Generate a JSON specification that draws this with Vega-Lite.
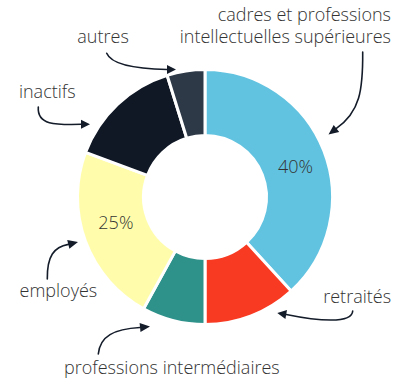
{
  "$schema": "https://vega.github.io/schema/vega-lite/v6.json",
  "autosize": "none",
  "width": 410,
  "height": 394,
  "padding": 0,
  "background": "white",
  "config": {"view": {"stroke": null}, "text": {"font": "Open Sans", "fontWeight": 300, "fontSize": 18, "color": "#333333"}},
  "data": {"values": [
    {"cat": "cadres", "name": "cadres et professions\nintellectuelles supérieures", "value": 38.2, "pct": "40%", "rank": 1},
    {"cat": "retraites", "name": "retraités", "value": 11.8, "pct": "", "rank": 2},
    {"cat": "prof", "name": "professions intermédiaires", "value": 8.0, "pct": "", "rank": 3},
    {"cat": "employes", "name": "employés", "value": 22.7, "pct": "25%", "rank": 4},
    {"cat": "inactifs", "name": "inactifs", "value": 14.5, "pct": "", "rank": 5},
    {"cat": "autres", "name": "autres", "value": 4.8, "pct": "", "rank": 6}
  ]},
  "layer": [
    {
      "encoding": {
        "theta": {"field": "value", "type": "quantitative", "stack": true},
        "order": {"field": "rank", "type": "quantitative"}
      },
      "layer": [
        {
          "mark": {"type": "arc", "innerRadius": 61.5, "outerRadius": 127.5, "stroke": "white", "strokeWidth": 3},
          "encoding": {
            "color": {"field": "cat", "type": "nominal", "legend": null,
              "scale": {"domain": ["cadres", "retraites", "prof", "employes", "inactifs", "autres"],
                        "range": ["#62C3E1", "#F93A22", "#2E918A", "#FFFDAB", "#101826", "#2D3947"]}}
          }
        },
        {
          "mark": {"type": "text", "radius": 94, "baseline": "alphabetic", "align": "center", "dx": 2.9, "dy": 10.3},
          "encoding": {"text": {"condition": {"test": "datum.cat === 'cadres'", "field": "pct"}, "value": ""}}
        },
        {
          "mark": {"type": "text", "radius": 94, "baseline": "alphabetic", "align": "center", "dx": -1, "dy": -0.9},
          "encoding": {"text": {"condition": {"test": "datum.cat === 'employes'", "field": "pct"}, "value": ""}}
        },
        {
          "mark": {"type": "text", "radius": 140, "align": "right", "baseline": "alphabetic", "lineBreak": "\n", "lineHeight": 22, "dx": 55.5, "dy": -125.2},
          "encoding": {"text": {"condition": {"test": "datum.cat === 'cadres'", "field": "name"}, "value": ""}}
        },
        {
          "mark": {"type": "text", "radius": 140, "align": "center", "baseline": "alphabetic", "dx": -80.9, "dy": -15.9},
          "encoding": {"text": {"condition": {"test": "datum.cat === 'autres'", "field": "name"}, "value": ""}}
        },
        {
          "mark": {"type": "text", "radius": 140, "align": "center", "baseline": "alphabetic", "dx": -61.6, "dy": 2.3},
          "encoding": {"text": {"condition": {"test": "datum.cat === 'inactifs'", "field": "name"}, "value": ""}}
        },
        {
          "mark": {"type": "text", "radius": 140, "align": "center", "baseline": "alphabetic", "dx": -15.4, "dy": 51.3},
          "encoding": {"text": {"condition": {"test": "datum.cat === 'employes'", "field": "name"}, "value": ""}}
        },
        {
          "mark": {"type": "text", "radius": 140, "align": "center", "baseline": "alphabetic", "dx": 1.7, "dy": 41.7},
          "encoding": {"text": {"condition": {"test": "datum.cat === 'prof'", "field": "name"}, "value": ""}}
        },
        {
          "mark": {"type": "text", "radius": 140, "align": "center", "baseline": "alphabetic", "dx": 101.4, "dy": -24.8},
          "encoding": {"text": {"condition": {"test": "datum.cat === 'retraites'", "field": "name"}, "value": ""}}
        }
      ]
    },
    {
      "data": {"values": [{"annotation": "flèches"}]},
      "mark": {"type": "point", "filled": false, "opacity": 1, "size": 40000, "color": "#141C2A", "strokeWidth": 1.6, "strokeCap": "round",
        "shape": "M-0.983,-1.437 C-0.93,-1.31 -0.65,-1.28 -0.38,-1.275 M1.577,-1.45 C1.58,-1.07 1.55,-0.85 1.314,-0.686 M-1.667,-0.9 C-1.68,-0.72 -1.5,-0.72 -1.24,-0.727 M-1.577,0.82 C-1.58,0.59 -1.51,0.5 -1.367,0.474 M-1.067,1.57 C-1.05,1.39 -0.91,1.32 -0.65,1.305 M1.477,1.14 C1.47,1.27 1.13,1.24 0.812,1.175"},
      "encoding": {}
    },
    {
      "data": {"values": [{"annotation": "pointes"}]},
      "mark": {"type": "point", "filled": true, "opacity": 1, "size": 40000, "color": "#141C2A", "strokeWidth": 0,
        "shape": "M-0.29,-1.275 L-0.38,-1.32 L-0.38,-1.23 Z M1.235,-0.625 L1.342,-0.65 L1.287,-0.721 Z M-1.15,-0.727 L-1.24,-0.772 L-1.24,-0.682 Z M-1.27,0.45 L-1.356,0.518 L-1.378,0.431 Z M-0.55,1.295 L-0.645,1.35 L-0.654,1.26 Z M0.723,1.16 L0.804,1.219 L0.82,1.131 Z"},
      "encoding": {}
    }
  ]
}
